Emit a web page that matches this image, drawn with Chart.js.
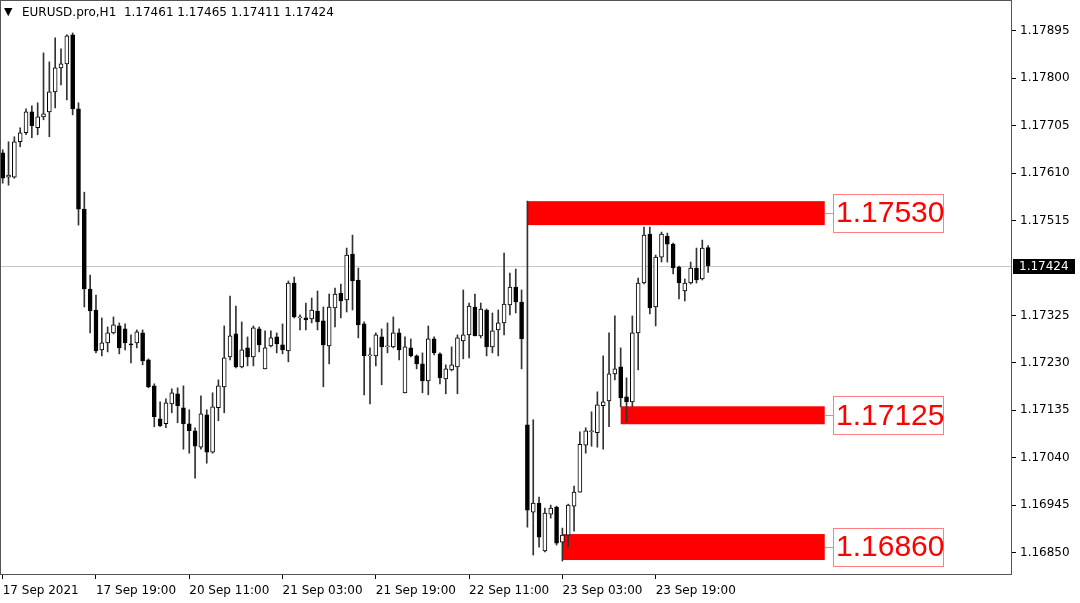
<!DOCTYPE html>
<html>
<head>
<meta charset="utf-8">
<script src="https://cdn.jsdelivr.net/npm/chart.js@4.4.1/dist/chart.umd.min.js"></script>
<style>
html, body { margin: 0; padding: 0; background: #fff; }
#wrap { position: relative; width: 1080px; height: 603px; }
#tri { position: absolute; left: 4px; top: 5px; font: 11px "DejaVu Sans"; color: #000; }
#hdr { position: absolute; left: 22px; top: 5px; font: 12px "DejaVu Sans"; color: #000; white-space: pre; }
</style>
</head>
<body>
<div id="wrap">
  <canvas id="chart" width="1080" height="603"></canvas>
  <div id="tri">▼</div>
  <div id="hdr">EURUSD.pro,H1  1.17461 1.17465 1.17411 1.17424</div>
</div>
<script>
// EURUSD H1, one value per bar, from 17 Sep 03:00
const open = [1.17651,1.17602,1.17602,1.17673,1.17691,1.17733,1.17701,1.17723,1.17733,1.17773,
  1.17821,1.17829,1.17887,1.17739,1.17538,1.17378,1.17336,1.17256,1.17270,1.17290,
  1.17304,1.17298,1.17268,1.17270,1.17290,1.17236,1.17184,1.17118,1.17108,1.17148,
  1.17168,1.17140,1.17108,1.17094,1.17061,1.17126,1.17051,1.17140,1.17182,1.17242,
  1.17288,1.17222,1.17260,1.17242,1.17298,1.17218,1.17264,1.17282,1.17266,1.17254,
  1.17390,1.17320,1.17320,1.17318,1.17334,1.17314,1.17264,1.17340,1.17370,1.17356,
  1.17448,1.17396,1.17308,1.17244,1.17244,1.17282,1.17262,1.17262,1.17290,1.17170,
  1.17260,1.17244,1.17228,1.17194,1.17278,1.17248,1.17198,1.17216,1.17222,1.17274,
  1.17286,1.17342,1.17284,1.17336,1.17262,1.17296,1.17310,1.17346,1.17382,1.17352,
  1.17106,1.16931,1.16949,1.16853,1.16927,1.16941,1.16871,1.16885,1.16943,1.16971,
  1.17065,1.17092,1.17090,1.17144,1.17154,1.17208,1.17222,1.17162,1.17152,1.17290,
  1.17390,1.17488,1.17342,1.17442,1.17484,1.17468,1.17422,1.17374,1.17390,1.17420,
  1.17398,1.17461];
const high = [1.17657,1.17673,1.17683,1.17701,1.17739,1.17745,1.17751,1.17851,1.17833,1.17881,
  1.17859,1.17887,1.17891,1.17751,1.17572,1.17406,1.17366,1.17320,1.17302,1.17322,
  1.17310,1.17308,1.17286,1.17296,1.17296,1.17238,1.17188,1.17152,1.17158,1.17178,
  1.17180,1.17184,1.17136,1.17100,1.17164,1.17136,1.17170,1.17196,1.17304,1.17364,
  1.17344,1.17312,1.17282,1.17304,1.17302,1.17294,1.17294,1.17290,1.17308,1.17394,
  1.17402,1.17326,1.17350,1.17360,1.17374,1.17342,1.17368,1.17380,1.17388,1.17460,
  1.17486,1.17420,1.17312,1.17260,1.17290,1.17298,1.17310,1.17322,1.17298,1.17282,
  1.17278,1.17246,1.17250,1.17304,1.17282,1.17250,1.17226,1.17262,1.17286,1.17376,
  1.17350,1.17368,1.17350,1.17338,1.17330,1.17336,1.17450,1.17410,1.17418,1.17376,
  1.17554,1.17116,1.16961,1.16939,1.16945,1.16943,1.16899,1.16947,1.16983,1.17092,
  1.17100,1.17132,1.17172,1.17244,1.17290,1.17324,1.17260,1.17200,1.17324,1.17400,
  1.17502,1.17502,1.17446,1.17492,1.17490,1.17470,1.17424,1.17398,1.17432,1.17460,
  1.17476,1.17465];
const low = [1.17590,1.17586,1.17600,1.17663,1.17687,1.17681,1.17687,1.17717,1.17683,1.17741,
  1.17787,1.17757,1.17727,1.17506,1.17342,1.17290,1.17250,1.17244,1.17252,1.17288,
  1.17248,1.17256,1.17230,1.17260,1.17226,1.17180,1.17102,1.17102,1.17100,1.17130,
  1.17110,1.17057,1.17049,1.16999,1.17057,1.17029,1.17049,1.17114,1.17130,1.17236,
  1.17220,1.17220,1.17224,1.17224,1.17252,1.17218,1.17262,1.17250,1.17248,1.17232,
  1.17320,1.17296,1.17296,1.17310,1.17296,1.17182,1.17228,1.17302,1.17320,1.17332,
  1.17336,1.17280,1.17166,1.17148,1.17224,1.17186,1.17250,1.17260,1.17236,1.17170,
  1.17242,1.17218,1.17170,1.17166,1.17246,1.17188,1.17168,1.17214,1.17168,1.17238,
  1.17240,1.17284,1.17280,1.17244,1.17250,1.17244,1.17286,1.17326,1.17330,1.17218,
  1.16901,1.16845,1.16861,1.16851,1.16919,1.16865,1.16833,1.16861,1.16893,1.16971,
  1.17049,1.17063,1.17061,1.17057,1.17102,1.17196,1.17142,1.17112,1.17142,1.17216,
  1.17388,1.17328,1.17304,1.17432,1.17432,1.17408,1.17358,1.17354,1.17388,1.17390,
  1.17396,1.17411];
const close = [1.17600,1.17606,1.17673,1.17691,1.17733,1.17705,1.17723,1.17729,1.17773,1.17821,
  1.17829,1.17885,1.17739,1.17538,1.17378,1.17334,1.17254,1.17270,1.17290,1.17306,
  1.17260,1.17270,1.17266,1.17292,1.17234,1.17182,1.17122,1.17104,1.17150,1.17170,
  1.17144,1.17108,1.17094,1.17063,1.17128,1.17051,1.17142,1.17184,1.17240,1.17284,
  1.17222,1.17256,1.17242,1.17300,1.17266,1.17260,1.17280,1.17268,1.17256,1.17390,
  1.17322,1.17320,1.17316,1.17336,1.17312,1.17266,1.17342,1.17368,1.17354,1.17446,
  1.17394,1.17306,1.17244,1.17244,1.17286,1.17262,1.17262,1.17290,1.17256,1.17262,
  1.17244,1.17228,1.17194,1.17278,1.17250,1.17200,1.17218,1.17226,1.17280,1.17286,
  1.17344,1.17284,1.17338,1.17262,1.17294,1.17310,1.17348,1.17382,1.17352,1.17278,
  1.16935,1.16949,1.16881,1.16929,1.16939,1.16869,1.16885,1.16945,1.16971,1.17067,
  1.17094,1.17094,1.17146,1.17152,1.17208,1.17218,1.17160,1.17152,1.17290,1.17390,
  1.17486,1.17340,1.17442,1.17488,1.17468,1.17420,1.17390,1.17390,1.17420,1.17396,
  1.17460,1.17424];

// time labels, one every 16 bars
const timeLabels = ['17 Sep 2021', '17 Sep 19:00', '20 Sep 11:00', '21 Sep 03:00',
  '21 Sep 19:00', '22 Sep 11:00', '23 Sep 03:00', '23 Sep 19:00'];
const labelStep = 16;
const priceTicks = [1.17895, 1.17800, 1.17705, 1.17610, 1.17515, 1.17325,
  1.17230, 1.17135, 1.17040, 1.16945, 1.16850];

// supply / demand zones (bar index from, bar index to, top, bottom)
const zoneFrom = [90, 106, 96];
const zoneTo = [141, 141, 141];
const zoneTop = [1.17554, 1.17143, 1.16887];
const zoneBottom = [1.17506, 1.17107, 1.16835];
const zoneText = ['1.17530', '1.17125', '1.16860'];

const bars = close.map((_, i) => i);
const lastPrice = close[close.length - 1];

// no extra room around the plot, MT4 style
const noPad = s => { s.paddingLeft = 0; s.paddingRight = 0; s.paddingTop = 0; s.paddingBottom = 0; };

const mtExtras = {
  id: 'mtExtras',
  beforeDatasetsDraw(chart) {
    const { ctx, chartArea: a, scales: { x, y } } = chart;
    ctx.save();
    const py = Math.round(y.getPixelForValue(lastPrice)) + 0.5;
    ctx.strokeStyle = '#c8c8c8';
    ctx.lineWidth = 1;
    ctx.beginPath();
    ctx.moveTo(a.left, py);
    ctx.lineTo(a.right, py);
    ctx.stroke();
    ctx.fillStyle = '#ff0000';
    zoneFrom.forEach((f, k) => {
      const x0 = x.getPixelForValue(f), x1 = x.getPixelForValue(zoneTo[k]);
      const y0 = y.getPixelForValue(zoneTop[k]), y1 = y.getPixelForValue(zoneBottom[k]);
      ctx.fillRect(x0, y0, x1 - x0, y1 - y0);
    });
    ctx.restore();
  },
  afterDraw(chart) {
    const { ctx, chartArea: a, scales: { x, y } } = chart;
    ctx.save();
    // frame
    ctx.strokeStyle = '#555';
    ctx.lineWidth = 1;
    ctx.strokeRect(a.left + 0.5, a.top + 0.5, a.right - a.left - 1, a.bottom - a.top);

    // zone price boxes
    ctx.font = '30px "Liberation Sans"';
    ctx.textBaseline = 'middle';
    zoneFrom.forEach((f, k) => {
      const xr = x.getPixelForValue(zoneTo[k]);
      const ym = (y.getPixelForValue(zoneTop[k]) + y.getPixelForValue(zoneBottom[k])) / 2;
      const bx = Math.round(xr) + 8, by = Math.round(ym - 19);
      ctx.strokeStyle = '#ff8080';
      ctx.beginPath();
      ctx.moveTo(xr, Math.round(ym) + 0.5);
      ctx.lineTo(bx, Math.round(ym) + 0.5);
      ctx.stroke();
      ctx.fillStyle = '#fff';
      ctx.fillRect(bx, by, 110, 38);
      ctx.strokeRect(bx + 0.5, by + 0.5, 110, 38);
      ctx.fillStyle = '#ff0000';
      ctx.fillText(zoneText[k], bx + 3, ym + 1);
    });

    // current price tag
    const py = Math.round(y.getPixelForValue(lastPrice));
    ctx.fillStyle = '#000';
    ctx.fillRect(a.right + 1, py - 7, 62, 15);
    ctx.fillStyle = '#fff';
    ctx.font = '12px "DejaVu Sans"';
    ctx.fillText(lastPrice.toFixed(5), a.right + 7, py + 1);
    ctx.restore();
  }
};

new Chart(document.getElementById('chart'), {
  type: 'bar',
  data: {
    datasets: [
      {
        label: 'body',
        data: bars.map(i => ({ x: i, y: [open[i], close[i]] })),
        backgroundColor: bars.map(i => close[i] >= open[i] ? '#ffffff' : '#000000'),
        borderColor: '#000',
        borderWidth: 1,
        borderSkipped: false,
        barThickness: 4,
        minBarLength: 1,
        grouped: false,
        order: 1
      },
      {
        label: 'wick',
        data: bars.map(i => ({ x: i, y: [low[i], high[i]] })),
        backgroundColor: '#333',
        borderWidth: 0,
        barThickness: 1,
        grouped: false,
        order: 2
      }
    ]
  },
  options: {
    responsive: false,
    animation: false,
    devicePixelRatio: 1,
    layout: { padding: 0 },
    plugins: { legend: { display: false }, tooltip: { enabled: false } },
    scales: {
      x: {
        type: 'linear',
        offset: false,
        min: -0.463,
        max: 173.12,
        afterBuildTicks: s => { s.ticks = timeLabels.map((_, k) => ({ value: k * labelStep })); },
        afterFit: s => { s.height = 29; noPad(s); },
        ticks: {
          autoSkip: false,
          maxRotation: 0,
          align: 'start',
          padding: 5,
          color: '#000',
          font: { family: 'DejaVu Sans', size: 12 },
          callback: (v, idx) => timeLabels[idx]
        },
        grid: { drawOnChartArea: false, drawTicks: true, tickLength: 5, color: '#000', offset: false },
        border: { display: false }
      },
      y: {
        position: 'right',
        min: 1.16807,
        max: 1.17957,
        beginAtZero: false,
        afterBuildTicks: s => { s.ticks = priceTicks.map(v => ({ value: v })); },
        afterFit: s => { s.width = 68; noPad(s); },
        ticks: {
          padding: 4,
          color: '#000',
          font: { family: 'DejaVu Sans', size: 12 },
          callback: v => v.toFixed(5)
        },
        grid: { drawOnChartArea: false, drawTicks: true, tickLength: 4, color: '#000' },
        border: { display: false }
      }
    }
  },
  plugins: [mtExtras]
});
</script>
</body>
</html>
